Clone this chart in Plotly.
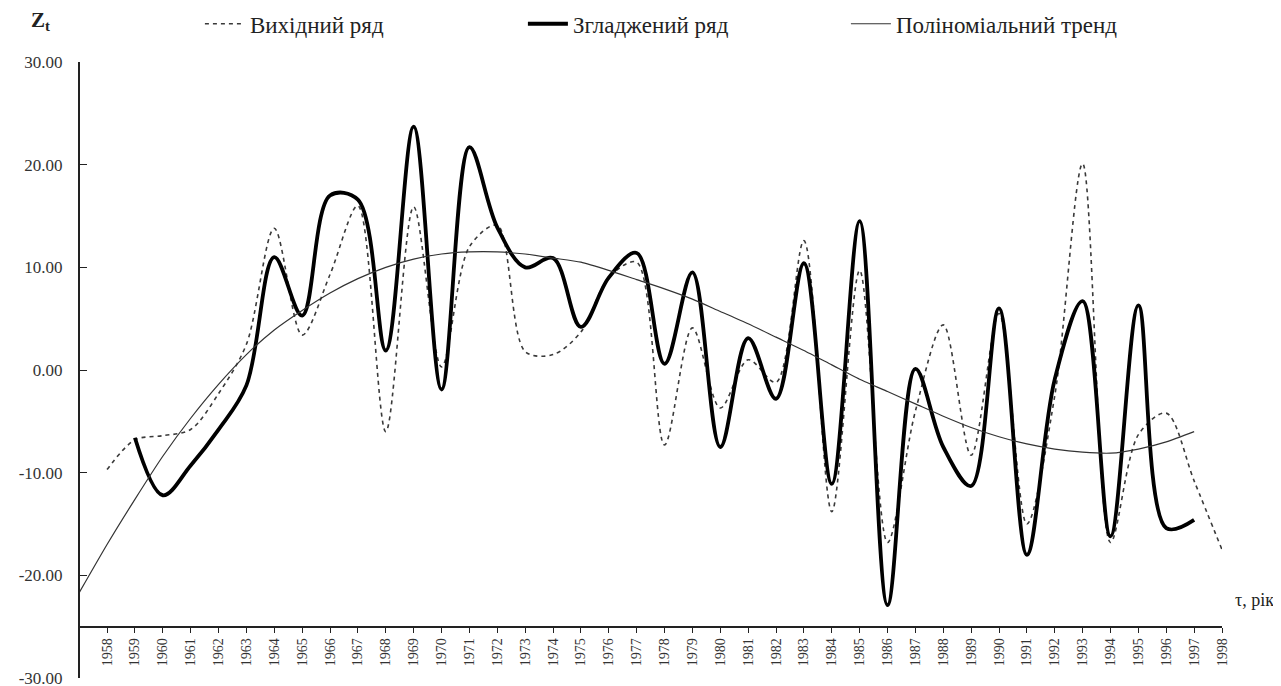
import plotly.graph_objects as go

# ---- data ----
years_orig = list(range(1958, 1999))
orig_values = [-9.7, -6.8, -6.4, -5.8, -2.3, 2.5, 13.8, 3.4, 9.3, 16.0,
               -6.0, 15.9, 0.3, 12.0, 14.1, 1.8, 1.5, 3.7, 9.0, 10.5,
               -7.3, 4.1, -3.7, 1.0, -1.2, 12.6, -13.8, 9.7, -16.8, -4.0,
               4.4, -8.3, 5.5, -15.0, -2.5, 20.1, -16.8, -6.3, -4.2, -10.8,
               -17.5]

years_smooth = list(range(1959, 1998))
smooth_values = [-6.6, -12.2, -9.3, -5.8, -1.5, 11.0, 5.3, 17.0, 16.6, 1.9,
                 23.7, -1.9, 21.7, 13.9, 10.0, 10.9, 4.2, 9.0, 11.4, 0.6,
                 9.5, -7.5, 3.1, -2.8, 10.4, -11.1, 14.5, -22.9, 0.1, -7.5,
                 -11.3, 6.0, -18.0, -0.9, 6.7, -16.2, 6.3, -15.4, -14.6]

years_trend = list(range(1957, 1998))
trend_values = [-21.7, -17.0, -12.6, -8.4, -4.7, -1.4, 1.5, 3.9, 5.8, 7.5,
                8.9, 10.0, 10.8, 11.3, 11.5, 11.5, 11.3, 10.9, 10.5, 9.7,
                8.8, 7.9, 6.9, 5.7, 4.5, 3.2, 1.9, 0.5, -0.9, -2.1,
                -3.3, -4.5, -5.6, -6.5, -7.2, -7.7, -8.0, -8.1, -7.7, -7.0,
                -6.0]

y_ticks = [-30, -20, -10, 0, 10, 20, 30]
y_tick_text = ["-30.00", "-20.00", "-10.00", "0.00", "10.00", "20.00", "30.00"]
x_ticks = years_orig
x_tick_text = [str(y) for y in years_orig]

legend_names = ["Вихідний ряд", "Згладжений ряд", "Поліноміальний тренд"]

SERIF = "Liberation Serif, Times New Roman, serif"

fig = go.Figure()
fig.add_trace(go.Scatter(
    x=years_orig, y=orig_values, name=legend_names[0], mode="lines",
    line=dict(color="#3a3a3a", width=1.6, dash="4px,4px", shape="spline", smoothing=0.9),
))
fig.add_trace(go.Scatter(
    x=years_smooth, y=smooth_values, name=legend_names[1], mode="lines",
    line=dict(color="#000000", width=3.8, shape="spline", smoothing=1.0),
))
fig.add_trace(go.Scatter(
    x=years_trend, y=trend_values, name=legend_names[2], mode="lines",
    line=dict(color="#333333", width=1.2, shape="spline", smoothing=0.6),
))

x_range = [1957.03, 1998.0]
axis_pos = 5 / 60  # x axis crosses at -25 on the [-30, 30] value axis

# the page places the figure 8px from the window's top-left corner
fig.update_layout(
    width=1273, height=678,
    margin=dict(l=72, r=59, t=54, b=8, autoexpand=False),
    paper_bgcolor="white", plot_bgcolor="white",
    font=dict(family=SERIF, color="#222"),
    showlegend=True,
    legend=dict(
        orientation="h", x=0.105, xanchor="left", y=1.062, yanchor="middle",
        font=dict(family=SERIF, size=23, color="#222"),
        entrywidth=268, entrywidthmode="pixels", itemwidth=40,
        bgcolor="rgba(0,0,0,0)",
    ),
    xaxis=dict(
        range=x_range, anchor="free", position=axis_pos,
        showgrid=False, zeroline=False,
        showline=True, linecolor="#222", linewidth=2,
        tickmode="array", tickvals=x_ticks, ticktext=x_tick_text,
        ticks="outside", ticklen=5, tickwidth=1, tickcolor="#222",
        tickangle=-90, tickfont=dict(family=SERIF, size=14, color="#333"),
    ),
    xaxis2=dict(
        range=x_range, overlaying="x", anchor="free", position=axis_pos,
        showgrid=False, zeroline=False, showline=False,
        tickmode="array", tickvals=x_ticks,
        ticks="inside", ticklen=5, tickwidth=1, tickcolor="#222",
        showticklabels=False,
    ),
    yaxis=dict(
        range=[-30, 30], showgrid=False, zeroline=False,
        showline=True, linecolor="#222", linewidth=2,
        tickmode="array", tickvals=y_ticks, ticktext=y_tick_text,
        ticks="inside", ticklen=7, tickwidth=1, tickcolor="#222",
        ticklabelstandoff=12, ticklabeloverflow="allow",
        tickfont=dict(family=SERIF, size=17, color="#333"),
    ),
    annotations=[
        dict(text="<b>Z<sub>t</sub></b>", x=-0.035, y=1.066, xref="paper", yref="paper",
             xanchor="center", yanchor="middle", showarrow=False,
             font=dict(family=SERIF, size=21, color="#222")),
        dict(text="τ, рік", x=1.0095, y=0.127, xref="paper", yref="paper",
             xanchor="left", yanchor="middle", showarrow=False,
             font=dict(family=SERIF, size=18, color="#222")),
    ],
)

fig.write_html("out.html")
